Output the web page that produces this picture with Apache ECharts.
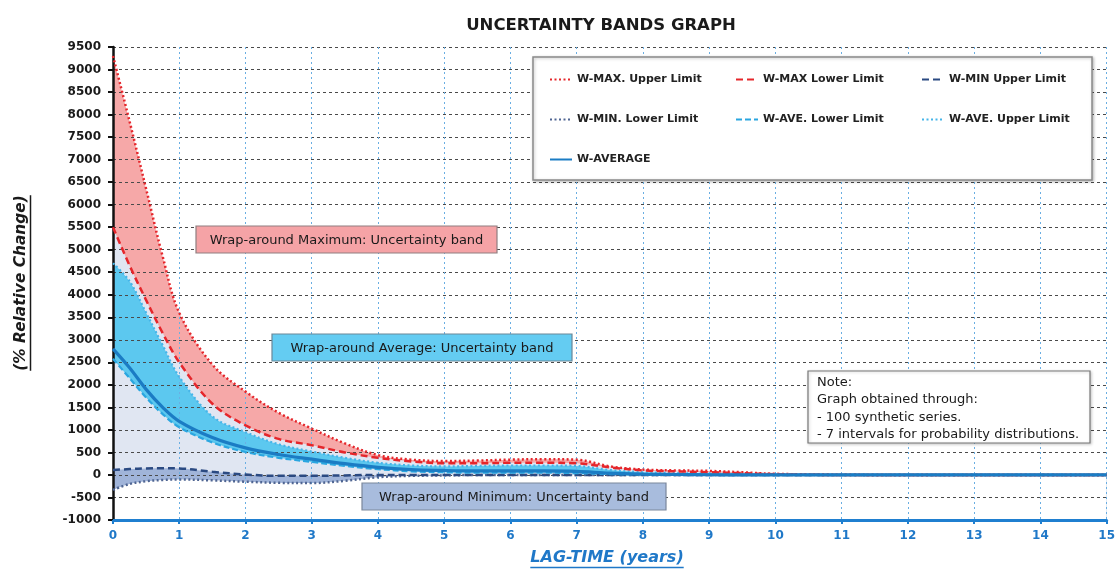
<!DOCTYPE html>
<html>
<head>
<meta charset="utf-8">
<script src="https://cdn.jsdelivr.net/npm/echarts@6/dist/echarts.min.js"></script>
<style>
  html, body { margin: 0; padding: 0; background: #ffffff; }
  #chart { width: 1118px; height: 569px; }
</style>
</head>
<body>
<div id="chart"></div>
<script>
// Lag time (years) shared by every curve
const years = [0, 0.25, 0.5, 0.75, 1, 1.5, 2, 2.5, 3, 3.5, 4, 4.5, 5, 5.5, 6, 6.5, 7, 7.5, 8, 8.5, 9, 9.5, 10, 11, 12, 13, 14, 15];

// % relative change for each limit curve
const wMaxUpper = [9300, 7850, 6350, 4850, 3600, 2450, 1850, 1380, 1030, 700, 440, 340, 310, 320, 340, 350, 340, 190, 120, 100, 90, 60, 25, 5, 0, 0, 0, 0];
const wMaxLower = [5500, 4650, 3880, 3150, 2500, 1580, 1100, 800, 660, 500, 380, 300, 260, 260, 270, 270, 260, 170, 100, 80, 60, 40, 15, 0, 0, 0, 0, 0];
const wAveUpper = [4700, 4300, 3600, 2880, 2180, 1300, 950, 680, 520, 380, 270, 210, 190, 200, 210, 210, 200, 110, 60, 40, 30, 15, 5, 0, 0, 0, 0, 0];
const wAverage  = [2800, 2380, 1900, 1500, 1190, 830, 600, 455, 350, 250, 170, 120, 100, 90, 90, 90, 80, 40, 20, 10, 5, 0, 0, 0, 0, 0, 0, 0];
const wAveLower = [2580, 2150, 1720, 1350, 1060, 720, 510, 380, 290, 200, 130, 80, 60, 50, 50, 50, 40, 20, 10, 5, 0, 0, 0, 0, 0, 0, 0, 0];
const wMinUpper = [110, 130, 145, 150, 145, 70, 10, -20, -20, -10, 0, 0, 0, 0, 0, 0, 0, 0, 0, 0, 0, 0, 0, 0, 0, 0, 0, 0];
const wMinLower = [-330, -200, -140, -110, -100, -120, -150, -175, -180, -130, -50, -20, -10, 0, 0, 0, 0, 0, 0, 0, 0, 0, 0, 0, 0, 0, 0, 0];

// Axis ranges
const yMin = -1000, yMax = 9500, yStep = 500;
const xMin = 0, xMax = 15, xStep = 1;

// Text
const titleText = 'UNCERTAINTY BANDS GRAPH';
const yTitle = '(% Relative Change)';
const xTitle = 'LAG-TIME (years)';
const legendNames = [
  'W-MAX. Upper Limit', 'W-MAX Lower Limit', 'W-MIN Upper Limit',
  'W-MIN. Lower Limit', 'W-AVE. Lower Limit', 'W-AVE. Upper Limit',
  'W-AVERAGE'
];
const bandLabels = [
  'Wrap-around Maximum: Uncertainty band',
  'Wrap-around Average: Uncertainty band',
  'Wrap-around Minimum: Uncertainty band'
];
const noteLines = [
  'Note:',
  'Graph obtained through:',
  '- 100 synthetic series.',
  '- 7 intervals for probability distributions.'
];

const FONT = 'DejaVu Sans';
const SMOOTH = 0.35;

const pts = arr => years.map((t, i) => [t, arr[i]]);

// Band fills are painted from the bottom of the plot upward, top curve first,
// so each later fill hides the part of the previous one below its own curve.
function fill(values, color) {
  return {
    type: 'line', data: pts(values), smooth: SMOOTH, symbol: 'none',
    silent: true, z: 1,
    lineStyle: { width: 0, opacity: 0 },
    areaStyle: { color: color, opacity: 1, origin: 'start' },
    tooltip: { show: false }
  };
}

function limitLine(name, values, color, width, dash) {
  return {
    name: name, type: 'line', data: pts(values), smooth: SMOOTH,
    symbol: 'none', z: 5,
    lineStyle: { color: color, width: width, type: dash, cap: 'butt' },
    itemStyle: { color: color }
  };
}

const RED = '#e5262b', NAVY = '#2b4a82', SLATE = '#4f6592',
      CYAN_DASH = '#2aa6e0', CYAN_DOT = '#45b5e9', AVG = '#1b7cc4';

const series = [
  fill(wMaxUpper, '#f6a8a8'),
  fill(wMaxLower, '#e0e6f2'),
  fill(wAveUpper, '#5cc8ef'),
  fill(wAveLower, '#e0e6f2'),
  fill(wMinUpper, '#a0b4d9'),
  fill(wMinLower, '#ffffff'),
  limitLine('W-MIN. Lower Limit', wMinLower, SLATE, 2.5, [2, 2.5]),
  limitLine('W-MIN Upper Limit', wMinUpper, NAVY, 2.5, [7, 4]),
  limitLine('W-AVE. Lower Limit', wAveLower, CYAN_DASH, 2.2, [6, 3]),
  limitLine('W-AVE. Upper Limit', wAveUpper, CYAN_DOT, 2.2, [2, 2.5]),
  limitLine('W-MAX Lower Limit', wMaxLower, RED, 2.5, [7, 4]),
  limitLine('W-MAX. Upper Limit', wMaxUpper, RED, 2.5, [2, 2.5]),
  limitLine('W-AVERAGE', wAverage, AVG, 3.2, 'solid')
];

// Text width helper for the underlines of the axis titles
const measureCtx = document.createElement('canvas').getContext('2d');
function textWidth(text, font) { measureCtx.font = font; return measureCtx.measureText(text).width; }

const yTitleFont = 'italic bold 15.4px "' + FONT + '"';
const xTitleFont = 'italic bold 16px "' + FONT + '"';
const yTitleW = textWidth(yTitle, yTitleFont);
const xTitleW = textWidth(xTitle, xTitleFont);

function labelBox(x, y, w, h, fillColor, stroke, text) {
  return {
    type: 'group', x: x, y: y, z: 10,
    children: [
      { type: 'rect', shape: { x: 0, y: 0, width: w, height: h },
        style: { fill: fillColor, stroke: stroke, lineWidth: 1.2 }, z: 10 },
      { type: 'text', x: w / 2, y: h / 2 + 1, z: 11,
        style: { text: text, fill: '#1a1a1a', font: '13px "' + FONT + '"',
                 textAlign: 'center', textVerticalAlign: 'middle' } }
    ]
  };
}

const option = {
  backgroundColor: '#ffffff',
  animation: false,
  title: {
    text: titleText, left: 596, top: 12, textAlign: 'center',
    textStyle: { fontFamily: FONT, fontSize: 16.5, fontWeight: 'bold', color: '#1a1a1a' }
  },
  grid: { left: 113, right: 11, top: 47, bottom: 49, containLabel: false },
  legend: {
    data: legendNames,
    left: 544, top: 62, width: 570,
    orient: 'horizontal',
    itemWidth: 22, itemHeight: 10, itemGap: 15,
    selectedMode: false, z: 12,
    itemStyle: { opacity: 0 },
    textStyle: { fontFamily: FONT, fontSize: 11, fontWeight: 'bold', color: '#222', width: 143, lineHeight: 25 }
  },
  xAxis: {
    type: 'value', min: xMin, max: xMax, interval: xStep, z: 3,
    axisLine: { onZero: false, lineStyle: { color: '#1f7fd0', width: 3 } },
    axisTick: { show: true, inside: false, length: 4, lineStyle: { color: '#1f7fd0', width: 2 } },
    axisLabel: { color: '#1f78c8', fontFamily: FONT, fontSize: 12, fontWeight: 'bold', margin: 10 },
    splitLine: { show: true, lineStyle: { color: '#6aaee2', width: 1, type: [2, 3] } }
  },
  yAxis: {
    type: 'value', min: yMin, max: yMax, interval: yStep, z: 3,
    axisLine: { show: true, onZero: false, lineStyle: { color: '#111', width: 2.5 } },
    axisTick: { show: true, inside: false, length: 5, lineStyle: { color: '#111', width: 2 } },
    axisLabel: { color: '#1a1a1a', fontFamily: FONT, fontSize: 12, fontWeight: 'bold', margin: 12,
                 formatter: v => String(v) },
    splitLine: { show: true, lineStyle: { color: '#4a4a4a', width: 1, type: [3, 3] } }
  },
  series: series,
  graphic: [
    // legend frame
    { type: 'rect', z: 9, shape: { x: 533, y: 57, width: 559, height: 123 },
      style: { fill: '#ffffff', stroke: '#8a8a8a', lineWidth: 1.5,
               shadowBlur: 3, shadowColor: 'rgba(0,0,0,0.25)', shadowOffsetX: 1, shadowOffsetY: 1 } },
    labelBox(196, 226, 301, 27, '#f5a3a6', '#8f7f80', bandLabels[0]),
    labelBox(272, 334, 300, 27, '#64ccf2', '#6a8798', bandLabels[1]),
    labelBox(362, 483, 304, 27, '#a8bcdd', '#7b879c', bandLabels[2]),
    // note box
    { type: 'group', x: 808, y: 371, z: 10, children: [
      { type: 'rect', z: 10, shape: { x: 0, y: 0, width: 282, height: 72 },
        style: { fill: '#ffffff', stroke: '#777', lineWidth: 1.2,
                 shadowBlur: 3, shadowColor: 'rgba(0,0,0,0.2)', shadowOffsetX: 1, shadowOffsetY: 1 } },
      { type: 'text', z: 11, x: 9, y: 3,
        style: { text: noteLines.join('\n'), fill: '#1a1a1a', font: '13px "' + FONT + '"',
                 lineHeight: 17.4, textAlign: 'left', textVerticalAlign: 'top' } }
    ] },
    // y axis title, underlined
    { type: 'text', z: 10, x: 21, y: 283, rotation: Math.PI / 2,
      style: { text: yTitle, fill: '#1a1a1a', font: yTitleFont, textAlign: 'center', textVerticalAlign: 'middle' } },
    { type: 'line', z: 10, shape: { x1: 30.5, y1: 283 - yTitleW / 2, x2: 30.5, y2: 283 + yTitleW / 2 },
      style: { stroke: '#1a1a1a', lineWidth: 1.5 } },
    // x axis title, underlined
    { type: 'text', z: 10, x: 607, y: 558,
      style: { text: xTitle, fill: '#1f78c8', font: xTitleFont, textAlign: 'center', textVerticalAlign: 'middle' } },
    { type: 'line', z: 10, shape: { x1: 607 - xTitleW / 2, y1: 567.5, x2: 607 + xTitleW / 2, y2: 567.5 },
      style: { stroke: '#1f78c8', lineWidth: 1.5 } }
  ]
};

const chart = echarts.init(document.getElementById('chart'), null, { renderer: 'canvas' });
chart.setOption(option);
</script>
</body>
</html>
